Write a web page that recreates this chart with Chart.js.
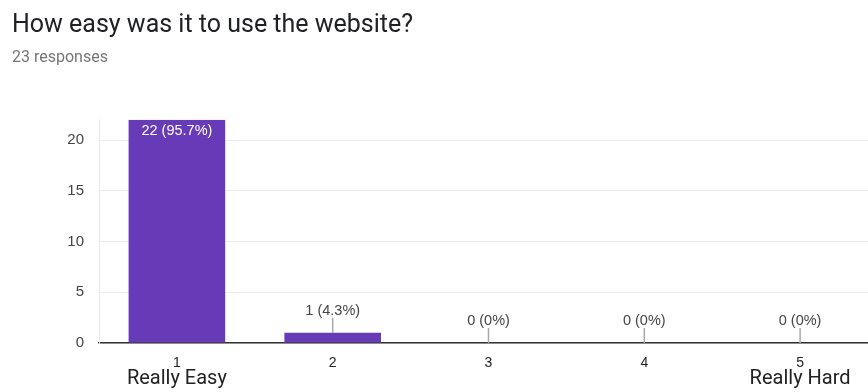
<!DOCTYPE html>
<html>
<head>
<meta charset="utf-8">
<script src="https://cdn.jsdelivr.net/npm/chart.js@4"></script>
<style>
  html, body { margin: 0; padding: 0; background: #fff; overflow: hidden; }
  #wrap { width: 880px; height: 392px; position: relative; }
</style>
</head>
<body>
<div id="wrap"><canvas id="chart"></canvas></div>
<script>
// Survey question, answers and counts
const questionTitle = 'How easy was it to use the website?';
const responseCount = 23;
const ratingLabels = ['1', '2', '3', '4', '5'];
const ratingCounts = [22, 1, 0, 0, 0];
const scaleEndLabels = ['Really Easy', '', '', '', 'Really Hard'];
const yTickValues = [0, 5, 10, 15, 20];

const HEAD_FONT = 'Roboto, "Noto Sans", sans-serif';
const LABEL_FONT = '"Liberation Sans", Arial, sans-serif';

function pctText(count) {
  const p = (count / responseCount * 100).toFixed(1).replace(/\.0$/, '');
  return count + ' (' + p + '%)';
}

// Value labels: inside the tallest bar, above the rest with a short leader line
const valueLabels = {
  id: 'valueLabels',
  afterDatasetsDraw(chart) {
    const ctx = chart.ctx;
    const meta = chart.getDatasetMeta(0);
    const data = chart.data.datasets[0].data;
    const maxVal = Math.max(...data);
    ctx.save();
    ctx.font = '14.5px ' + LABEL_FONT;
    ctx.textAlign = 'center';
    ctx.textBaseline = 'middle';
    meta.data.forEach((bar, i) => {
      const v = data[i];
      const txt = pctText(v);
      if (v === maxVal) {
        ctx.fillStyle = '#ffffff';
        ctx.fillText(txt, bar.x, bar.y + 11);
      } else {
        ctx.strokeStyle = '#a8a8a8';
        ctx.lineWidth = 1.5;
        ctx.beginPath();
        ctx.moveTo(bar.x, bar.y - 15);
        ctx.lineTo(bar.x, bar.y);
        ctx.stroke();
        ctx.fillStyle = '#444444';
        ctx.fillText(txt, bar.x, bar.y - 22);
      }
    });
    ctx.restore();
  }
};

new Chart(document.getElementById('chart'), {
  type: 'bar',
  data: {
    labels: ratingLabels,
    datasets: [{
      data: ratingCounts,
      backgroundColor: '#673ab7',
      borderWidth: 0,
      barPercentage: 0.62,
      categoryPercentage: 1.0
    }]
  },
  options: {
    responsive: true,
    maintainAspectRatio: false,
    animation: false,
    layout: { padding: { left: 12, right: 2, top: 0, bottom: 0 } },
    plugins: {
      legend: { display: false },
      tooltip: { enabled: false },
      title: {
        display: true,
        text: questionTitle,
        align: 'start',
        color: '#202124',
        font: { family: HEAD_FONT, size: 25, weight: 'normal' },
        padding: { top: 11, bottom: 7 }
      },
      subtitle: {
        display: true,
        text: responseCount + ' responses',
        align: 'start',
        color: '#757575',
        font: { family: HEAD_FONT, size: 16, weight: 'normal' },
        padding: { top: 0, bottom: 52.6 }
      }
    },
    scales: {
      x: {
        position: 'bottom',
        grid: { display: false, drawTicks: false },
        border: { display: true, color: '#333333', width: 1.5 },
        afterFit(scale) { scale.height = 24; },
        ticks: {
          color: '#222222',
          font: { family: LABEL_FONT, size: 14 },
          padding: 12,
          autoSkip: false,
          maxRotation: 0
        }
      },
      xEnds: {
        type: 'category',
        position: 'bottom',
        labels: scaleEndLabels,
        grid: { display: false, drawTicks: false },
        border: { display: false },
        afterFit(scale) { scale.height = 25; },
        ticks: {
          color: '#222222',
          font: { family: HEAD_FONT, size: 20 },
          padding: 0,
          autoSkip: false,
          maxRotation: 0
        }
      },
      y: {
        min: 0,
        max: 22,
        grid: { color: '#ebebeb', lineWidth: 1, drawTicks: false },
        border: { display: true, color: '#ebebeb' },
        afterBuildTicks(scale) {
          scale.ticks = yTickValues.map(v => ({ value: v }));
        },
        afterFit(scale) { scale.width = 87; },
        ticks: {
          color: '#444444',
          font: { family: LABEL_FONT, size: 15 },
          padding: 15
        }
      }
    }
  },
  plugins: [valueLabels]
});
</script>
</body>
</html>
